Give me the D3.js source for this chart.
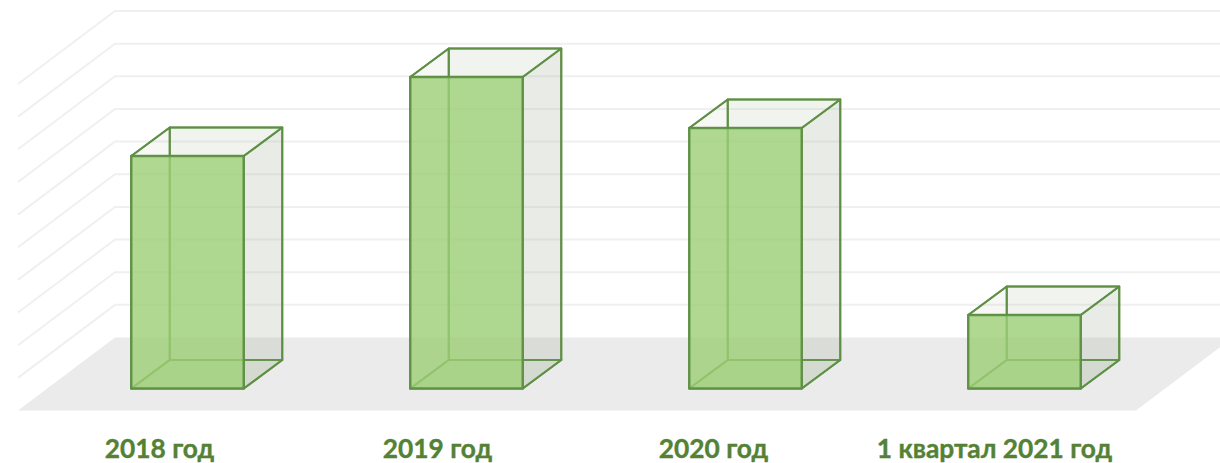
<!DOCTYPE html>
<html><head><meta charset="utf-8">
<script src="https://cdnjs.cloudflare.com/ajax/libs/d3/7.8.5/d3.min.js"></script>
<style>html,body{margin:0;padding:0;background:#fff}svg{display:block}</style></head>
<body><svg id="c" width="1220" height="463"></svg>
<script>
const categories = ["2018 год","2019 год","2020 год","1 квартал 2021 год"];
const values = [7.12, 9.54, 7.98, 2.25];
const gridTicks = [0,1,2,3,4,5,6,7,8,9,10];

const svg = d3.select("#c");
const x = d3.scaleBand().domain(categories).range([18,1134]);
const y = d3.scaleLinear().domain([0,10]).range([410.5,84]);
const floorDepth = {dx:97, dy:-73};
const floorRight = 1136;
const barDepth = {dx:38.5, dy:-28.5};
const barInset = {dx:30, dy:-22};
const barW = 112.5;
const labelNudge = [2,1,-2,0];
const pts = a => a.map(p=>p.join(",")).join(" ");

gridTicks.slice(1).forEach(t=>{
  const yf = y(t), xb = 18+floorDepth.dx, yb = yf+floorDepth.dy;
  svg.append("polyline").attr("points",pts([[18,yf],[xb,yb],[1220,yb]]))
    .attr("fill","none").attr("stroke","#f0f0f0").attr("stroke-width",2);
});
svg.append("polygon").attr("points",pts([
  [18,y(0)],[floorRight,y(0)],[floorRight+floorDepth.dx,y(0)+floorDepth.dy],[18+floorDepth.dx,y(0)+floorDepth.dy]
])).attr("fill","#ebebeb");

const stroke="#5c8f42";
categories.forEach((c,i)=>{
  const xl = x(c)+x.bandwidth()/2+barInset.dx-barW/2;
  const xr = xl+barW;
  const yb = y(0)+barInset.dy;
  const yt = yb-(y(0)-y(values[i]));
  const d = barDepth;
  const g = svg.append("g");
  const face=(p,fill,op,w)=>g.append("polygon").attr("points",pts(p)).attr("fill",fill).attr("fill-opacity",op)
     .attr("stroke",stroke).attr("stroke-width",w||2).attr("stroke-linejoin","round").attr("stroke-opacity",.9);
  face([[xl+d.dx,yb+d.dy],[xr+d.dx,yb+d.dy],[xr+d.dx,yt+d.dy],[xl+d.dx,yt+d.dy]],"#aeb5a0",.17);
  face([[xl,yb],[xl+d.dx,yb+d.dy],[xl+d.dx,yt+d.dy],[xl,yt]],"#aeb5a0",.1);
  face([[xl,yb],[xr,yb],[xr+d.dx,yb+d.dy],[xl+d.dx,yb+d.dy]],"#b5c4a8",.3);
  face([[xr,yb],[xr+d.dx,yb+d.dy],[xr+d.dx,yt+d.dy],[xr,yt]],"#a8ad9c",.1);
  face([[xl,yt],[xr,yt],[xr+d.dx,yt+d.dy],[xl+d.dx,yt+d.dy]],"#ffffff",0);
  face([[xl,yb],[xr,yb],[xr,yt],[xl,yt]],"#9dd077",.8,2.4);
});
svg.selectAll("text.l").data(categories).join("text").attr("class","l")
  .attr("x",(c,i)=>x(c)+x.bandwidth()/2+labelNudge[i]).attr("y",458)
  .attr("text-anchor","middle").attr("font-family","Lato, 'Open Sans', sans-serif")
  .attr("font-weight",700).attr("font-size",26.3).attr("fill","#548235")
  .attr("stroke","#548235").attr("stroke-width",0.4).text(c=>c);
</script></body></html>
